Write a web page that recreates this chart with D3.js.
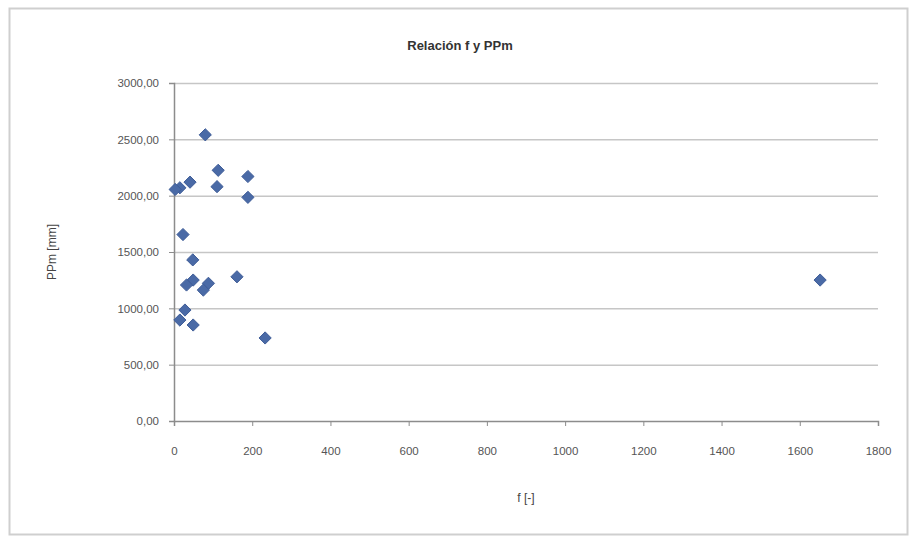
<!DOCTYPE html>
<html><head><meta charset="utf-8">
<script src="https://cdn.jsdelivr.net/npm/d3@7"></script>
<style>
body{margin:0;background:#fff;}
text{font-family:"Liberation Sans","DejaVu Sans",sans-serif;}
</style></head>
<body>
<svg id="c" width="916" height="540"></svg>
<script>
const fValues   = [80, 15, 3, 41, 113, 110, 189, 189, 23, 48, 49, 88, 32, 75, 161, 28, 15, 49, 233, 1652];
const ppmValues = [2540, 2070, 2055, 2120, 2225, 2080, 2170, 1985, 1655, 1430, 1251, 1222, 1207, 1162, 1280, 985, 896, 852, 737, 1251];
const xTicks = [0, 200, 400, 600, 800, 1000, 1200, 1400, 1600, 1800];
const yTicks = [0, 500, 1000, 1500, 2000, 2500, 3000];
const titleText = "Relación f y PPm";
const xTitle = "f [-]";
const yTitle = "PPm [mm]";

const svg = d3.select("#c");
svg.append("rect").attr("x",9.5).attr("y",8.5).attr("width",898).attr("height",526)
  .attr("fill","#fff").attr("stroke","#cfcfcf").attr("stroke-width",2);

const L=174, R=878, T=83, B=421;
const x = d3.scaleLinear().domain([0,1800]).range([L,R]);
const y = d3.scaleLinear().domain([0,3000]).range([B,T]);

svg.append("g").selectAll("line").data(yTicks.filter(d=>d>0)).join("line")
  .attr("x1",L).attr("x2",R).attr("y1",d=>y(d)+0.5).attr("y2",d=>y(d)+0.5)
  .attr("stroke","#c6c6c6").attr("stroke-width",1.5);

const fmt = d => d3.format(".2f")(d).replace(".",",");

const ya = svg.append("g").attr("transform",`translate(${L},0)`)
  .call(d3.axisLeft(y).tickValues(yTicks).tickFormat(fmt).tickSize(5).tickPadding(10));
const xa = svg.append("g").attr("transform",`translate(0,${B})`)
  .call(d3.axisBottom(x).tickValues(xTicks).tickFormat(d3.format("d")).tickSize(5).tickPadding(21));
[ya,xa].forEach(a=>{
  a.select(".domain").attr("stroke","#8c8c8c").attr("stroke-width",1.5);
  a.selectAll(".tick line").attr("stroke","#8c8c8c");
  a.selectAll("text").attr("fill","#555").style("font-size","11.5px");
});

const pts = fValues.map((f,i)=>({f, p: ppmValues[i]}));
svg.append("g").selectAll("path").data(pts).join("path")
  .attr("d", d3.symbol().type(d3.symbolDiamond2).size(95))
  .attr("transform", d=>`translate(${x(d.f)},${y(d.p)})`)
  .attr("fill","#4a6aa6").attr("stroke","#3f5d98").attr("stroke-width",1);

svg.append("text").attr("x",460).attr("y",50).attr("text-anchor","middle")
  .attr("fill","#333").style("font-size","13px").style("font-weight","bold").text(titleText);
svg.append("text").attr("x",(L+R)/2).attr("y",502).attr("text-anchor","middle")
  .attr("fill","#444").style("font-size","12px").text(xTitle);
svg.append("text").attr("transform",`translate(56,${(T+B)/2}) rotate(-90)`).attr("text-anchor","middle")
  .attr("fill","#444").style("font-size","12px").text(yTitle);
</script>
</body></html>
